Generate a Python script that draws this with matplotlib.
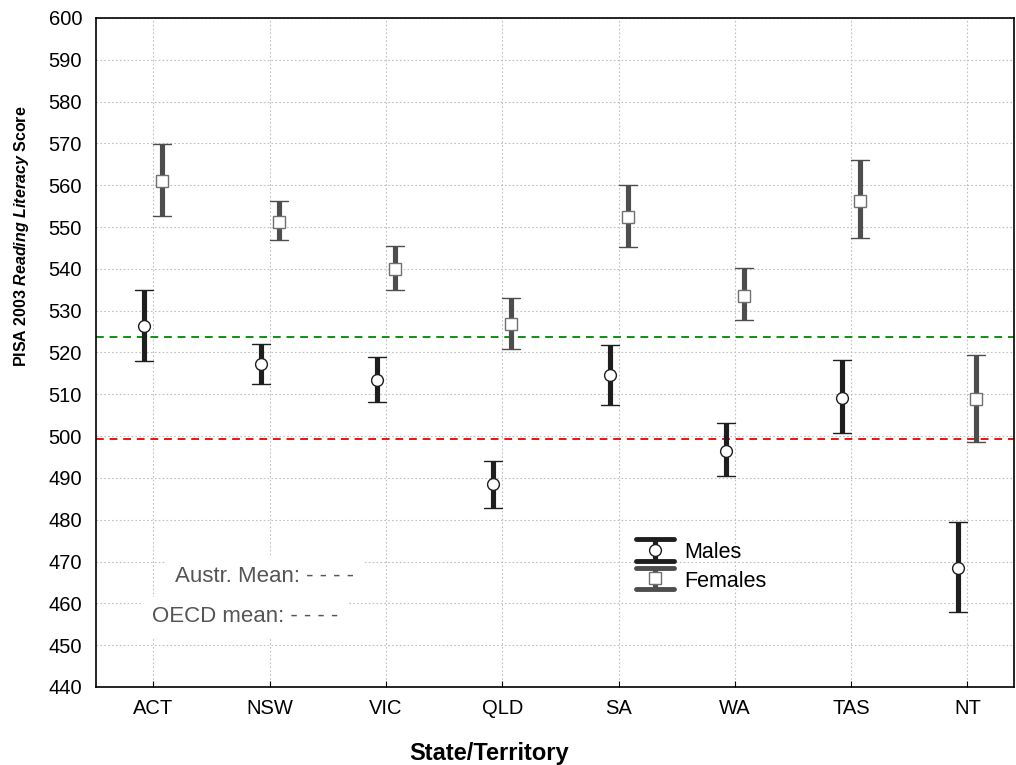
import matplotlib
matplotlib.use('Agg')
import matplotlib.pyplot as plt
import numpy as np
from matplotlib.legend_handler import HandlerErrorbar
from matplotlib.lines import Line2D
from matplotlib.collections import LineCollection
from matplotlib.markers import MarkerStyle

plt.rcParams['font.family'] = ['Liberation Sans', 'DejaVu Sans']
plt.rcParams['mathtext.fontset'] = 'custom'
plt.rcParams['mathtext.it'] = 'Liberation Sans:italic:bold'
plt.rcParams['mathtext.rm'] = 'Liberation Sans:bold'

states = ['ACT', 'NSW', 'VIC', 'QLD', 'SA', 'WA', 'TAS', 'NT']

# males: mean, lower, upper
male_mean = [526.3, 517.2, 513.4, 488.5, 514.7, 496.4, 509.2, 468.4]
male_low = [518.0, 512.5, 508.2, 482.8, 507.5, 490.5, 500.8, 458.0]
male_high = [534.9, 522.0, 518.8, 494.1, 521.7, 503.1, 518.3, 479.4]

# females: mean, lower, upper
fem_mean = [560.9, 551.1, 540.0, 526.7, 552.5, 533.5, 556.3, 508.9]
fem_low = [552.6, 546.9, 534.9, 520.8, 545.3, 527.8, 547.3, 498.7]
fem_high = [569.9, 556.2, 545.5, 533.0, 560.0, 540.1, 566.0, 519.4]

austr_mean = 523.8
oecd_mean = 499.3

x = np.arange(len(states))
off = 0.077

LW = 3.7
CAPW = 3.5


class BigCaps(HandlerErrorbar):
    # wider, thick, rounded caps in the legend
    def create_artists(self, *args, **kw):
        arts = super().create_artists(*args, **kw)
        for a in arts:
            if isinstance(a, Line2D) and a.get_marker() == '_':
                a.set_marker(MarkerStyle('_', capstyle='round'))
                a.set_markersize(28)
                a.set_markeredgewidth(CAPW)
            elif isinstance(a, LineCollection):
                a.set_linewidth(LW)
        return arts


def round_caps(cont):
    for c in cont[1]:
        c.set_marker(MarkerStyle('_', capstyle='round'))


fig = plt.figure(figsize=(10.16, 7.65), dpi=100)
ax = fig.add_axes([0.0945, 0.102, 0.9035, 0.8745])

ax.axhline(austr_mean, color='#109010', lw=1.4, ls=(0, (4, 3)), zorder=2)
ax.axhline(oecd_mean, color='#f01010', lw=1.4, ls=(0, (4, 3)), zorder=2)

mm = np.array(male_mean)
ml = mm - np.array(male_low)
mh = np.array(male_high) - mm
em = ax.errorbar(x - off, mm, yerr=[ml, mh], fmt='o', color='#1e1e1e', ecolor='#1e1e1e',
                 elinewidth=LW, capsize=6.3, capthick=CAPW, ms=8.5, mfc='white', mec='#1e1e1e',
                 mew=1, label='Males', zorder=4)
round_caps(em)

fm = np.array(fem_mean)
fl = fm - np.array(fem_low)
fh = np.array(fem_high) - fm
ef = ax.errorbar(x + off, fm, yerr=[fl, fh], fmt='s', color='#4d4d4d', ecolor='#4d4d4d',
                 elinewidth=LW, capsize=6.3, capthick=CAPW, ms=8, mfc='white', mec='#707070',
                 mew=1, label='Females', zorder=4)
round_caps(ef)

ax.set_xlim(-0.493, 7.40)
ax.set_ylim(440, 600)
ax.set_yticks(np.arange(440, 601, 10))
ax.set_xticks(x)
ax.set_xticklabels(states)
ax.tick_params(axis='both', direction='in', labelsize=14.5, length=4, color='black')
ax.tick_params(axis='y', length=0, pad=10)
ax.tick_params(axis='x', pad=9)
ax.grid(True, ls=(0, (1.5, 2)), color='#c0c0c0', lw=0.8, zorder=0)
ax.set_axisbelow(True)
for s in ax.spines.values():
    s.set_linewidth(1.2)

ax.set_xlabel('State/Territory', fontsize=17, fontweight='bold')
ax.xaxis.set_label_coords(0.428, -0.083)
ax.set_ylabel(r'PISA 2003 $\mathit{Reading\ Literacy}$ Score', fontsize=11.5,
              fontweight='bold')
ax.yaxis.set_label_coords(-0.071, 0.673)

ax.text(0.086, 0.1644, 'Austr. Mean: - - - -', transform=ax.transAxes, fontsize=16,
        color='#555555', va='center', bbox=dict(fc='white', ec='none', pad=7), zorder=5)
ax.text(0.061, 0.1046, 'OECD mean: - - - -', transform=ax.transAxes, fontsize=16,
        color='#555555', va='center', bbox=dict(fc='white', ec='none', pad=7), zorder=5)

ax.legend(loc='center left', bbox_to_anchor=(0.585, 0.180), frameon=False, fontsize=15.5,
          handlelength=2.0, handleheight=1.0, labelspacing=0.3, handletextpad=0.4,
          borderpad=0, borderaxespad=0, handler_map={type(em): BigCaps()})

fig.savefig('out.png', dpi=100)
